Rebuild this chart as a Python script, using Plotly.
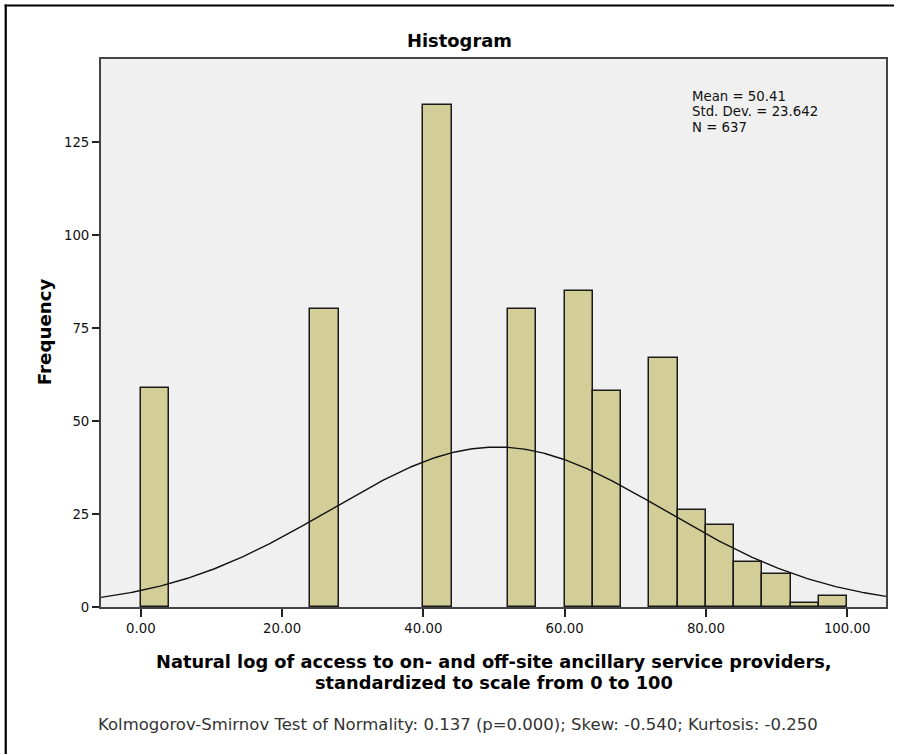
import numpy as np
import plotly.graph_objects as go

# ---- data ----
bin_width = 4
bin_starts = [0, 24, 40, 52, 60, 64, 72, 76, 80, 84, 88, 92, 96]
counts = [59, 80, 135, 80, 85, 58, 67, 26, 22, 12, 9, 1, 3]
mean_val = 50.41
std_val = 23.642
n_val = 637
x_tick_vals = [0, 20, 40, 60, 80, 100]
x_tick_text = ["0.00", "20.00", "40.00", "60.00", "80.00", "100.00"]
y_tick_vals = [0, 25, 50, 75, 100, 125]
y_tick_text = ["0", "25", "50", "75", "100", "125"]

title_text = "Histogram"
x_title_1 = "Natural log of access to on- and off-site ancillary service providers,"
x_title_2 = "standardized to scale from 0 to 100"
y_title = "Frequency"
footnote = "Kolmogorov-Smirnov Test of Normality: 0.137 (p=0.000); Skew: -0.540; Kurtosis: -0.250"
stats_lines = ["Mean = 50.41", "Std. Dev. = 23.642", "N = 637"]

# ---- layout geometry (pixels) ----
W, H = 898, 755
L, R, T, B = 101, 10, 59, 148
PW, PH = W - L - R, H - T - B
x_range = [-5.65, 105.5]
y_range = [0, 147.3]

def px(x):
    return (x - L) / PW

def py(y):
    return (H - B - y) / PH

centers = [s + bin_width / 2 for s in bin_starts]

# normal curve implied by the stated Mean / Std. Dev. / N
xc = np.linspace(x_range[0], x_range[1], 400)
yc = n_val * bin_width / (std_val * np.sqrt(2 * np.pi)) * np.exp(-0.5 * ((xc - mean_val) / std_val) ** 2)

fig = go.Figure()
fig.add_trace(go.Bar(
    x=centers, y=counts, width=bin_width,
    marker=dict(color="#D3CE97", line=dict(color="#1a1a1a", width=1.5)),
    hoverinfo="skip",
))
fig.add_trace(go.Scatter(
    x=xc, y=yc, mode="lines",
    line=dict(color="#111", width=1.4),
    hoverinfo="skip",
))

REG = "DejaVu Sans, Verdana, sans-serif"
BOLD = "DejaVu Sans, Verdana, sans-serif"

annotations = [
    dict(text="<b>%s</b>" % title_text, x=px(460.5), y=py(40.5), xref="paper", yref="paper",
         showarrow=False, xanchor="center", yanchor="middle",
         font=dict(family=BOLD, size=17.9, color="#000")),
    dict(text="<b>%s</b>" % y_title, x=px(44), y=py(332), xref="paper", yref="paper",
         showarrow=False, xanchor="center", yanchor="middle", textangle=-90,
         font=dict(family=BOLD, size=18.2, color="#000")),
    dict(text="<b>%s</b>" % x_title_1, x=px(495), y=py(661), xref="paper", yref="paper",
         showarrow=False, xanchor="center", yanchor="middle",
         font=dict(family=BOLD, size=17.8, color="#000")),
    dict(text="<b>%s</b>" % x_title_2, x=px(495), y=py(682), xref="paper", yref="paper",
         showarrow=False, xanchor="center", yanchor="middle",
         font=dict(family=BOLD, size=17.8, color="#000")),
    dict(text=footnote, x=px(458.7), y=py(724), xref="paper", yref="paper",
         showarrow=False, xanchor="center", yanchor="middle",
         font=dict(family=REG, size=16.5, color="#333")),
]
for i, s in enumerate(stats_lines):
    annotations.append(dict(
        text=s, x=px(691.7), y=py(96.7 + 15.2 * i), xref="paper", yref="paper",
        showarrow=False, xanchor="left", yanchor="middle",
        font=dict(family=REG, size=13.3, color="#111")))

fig.update_layout(
    width=W, height=H,
    margin=dict(l=L, r=R, t=T, b=B, pad=0),
    paper_bgcolor="white", plot_bgcolor="#F0F0F0",
    showlegend=False, bargap=0,
    font=dict(family=REG, size=13.3, color="#111"),
    annotations=annotations,
    shapes=[
        dict(type="line", xref="paper", yref="paper", x0=px(4.4), x1=px(896), y0=py(5.5), y1=py(5.5),
             line=dict(color="#000", width=2.2)),
        dict(type="line", xref="paper", yref="paper", x0=px(5.5), x1=px(5.5), y0=py(4.4), y1=py(754),
             line=dict(color="#000", width=2.2)),
    ],
)
fig.update_xaxes(
    range=x_range, tickvals=x_tick_vals, ticktext=x_tick_text,
    showgrid=False, zeroline=False,
    showline=True, mirror=True, linecolor="#444", linewidth=2,
    ticks="outside", ticklen=8, tickwidth=1.5, tickcolor="#222",
    tickfont=dict(family=REG, size=13.3, color="#111"),
)
fig.update_yaxes(
    range=y_range, tickvals=y_tick_vals, ticktext=y_tick_text,
    showgrid=False, zeroline=False,
    showline=True, mirror=True, linecolor="#444", linewidth=2,
    ticks="outside", ticklen=7, tickwidth=1.5, tickcolor="#222",
    tickfont=dict(family=REG, size=13.3, color="#111"),
)

fig.write_html("out.html", config={"displayModeBar": False})
